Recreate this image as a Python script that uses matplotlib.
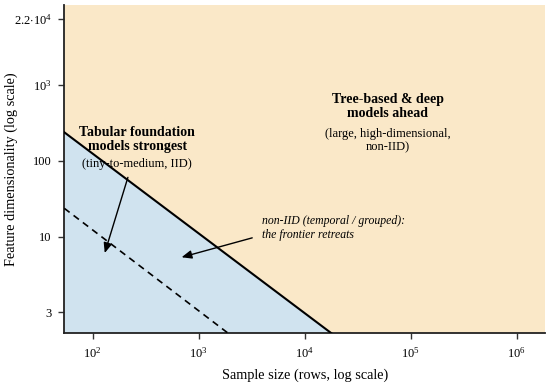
import numpy as np
import matplotlib
matplotlib.use("Agg")
import matplotlib.pyplot as plt

plt.rcParams['font.family'] = ['Liberation Serif', 'DejaVu Serif']
plt.rcParams['mathtext.fontset'] = 'custom'
plt.rcParams['mathtext.rm'] = 'Liberation Serif'
plt.rcParams['mathtext.it'] = 'Liberation Serif:italic'

# ---- data ----
y_tick_values = [3, 10, 100, 1000, 22000]
y_tick_labels = ['3', '10', '100', r'$10^{3}$', r'$2.2{\cdot}10^{4}$']
y_tick_positions = [0.0, 1.0, 2.0, 3.0, 3.872]   # evenly spaced axis positions
x_tick_values = [1e2, 1e3, 1e4, 1e5, 1e6]
x_tick_labels = [r'$10^{2}$', r'$10^{3}$', r'$10^{4}$', r'$10^{5}$', r'$10^{6}$']

frontier_n = [54, 17900]          # IID frontier (solid)
frontier_d = [238, 2.15]
noniid_n = [54, 1900]             # non-IID frontier (dashed)
noniid_d = [23.6, 2.15]

arrow1_start = (215, 60.5)
arrow1_end = (130, 7.7)
arrow2_start = (3200, 9.8)
arrow2_end = (690, 7.2)

xlim = (54, 1.85e6)
ylim = (2.15, 42400)

# ---- custom y scale (piecewise-log) ----
kl = np.log10(np.array(y_tick_values, dtype=float))
kp = np.array(y_tick_positions)
s_lo = (kp[1] - kp[0]) / (kl[1] - kl[0])
s_hi = (kp[-1] - kp[-2]) / (kl[-1] - kl[-2])
KL = np.concatenate([[kl[0] - 10], kl, [kl[-1] + 10]])
KP = np.concatenate([[kp[0] - 10 * s_lo], kp, [kp[-1] + 10 * s_hi]])

def fwd(d):
    d = np.asarray(d, dtype=float)
    with np.errstate(divide='ignore', invalid='ignore'):
        ld = np.log10(np.where(d > 0, d, 1e-10))
    return np.interp(ld, KL, KP)

def inv(p):
    p = np.asarray(p, dtype=float)
    return 10 ** np.interp(p, KP, KL)

BEIGE = '#fae8c8'
BLUE = '#d0e3ef'

fig = plt.figure(figsize=(5.5, 3.87), dpi=100)
ax = fig.add_axes([64.3 / 550, (387 - 333.3) / 387, (545 - 64.3) / 550, (333.3 - 5) / 387])
ax.set_xscale('log')
ax.set_yscale('function', functions=(fwd, inv))
ax.set_xlim(*xlim)
ax.set_ylim(*ylim)
ax.set_facecolor(BEIGE)

ax.fill([frontier_n[0], frontier_n[1], frontier_n[0]],
        [frontier_d[0], frontier_d[1], frontier_d[1]],
        color=BLUE, lw=0, zorder=1)
ax.plot(frontier_n, frontier_d, color='black', lw=1.5, zorder=3)
ax.plot(noniid_n, noniid_d, color='black', lw=1.2, ls=(0, (4, 3)), zorder=3)

ax.annotate('', xy=arrow1_end, xytext=arrow1_start,
            arrowprops=dict(arrowstyle='-|>,head_length=0.6,head_width=0.25', color='black', lw=1.0,
                            mutation_scale=10, shrinkA=0, shrinkB=0), zorder=4)
ax.annotate('', xy=arrow2_end, xytext=arrow2_start,
            arrowprops=dict(arrowstyle='-|>,head_length=0.6,head_width=0.25', color='black', lw=1.0,
                            mutation_scale=10, shrinkA=0, shrinkB=0), zorder=4)

ax.set_xticks(x_tick_values)
ax.set_xticklabels(x_tick_labels)
ax.xaxis.set_minor_locator(matplotlib.ticker.NullLocator())
ax.set_yticks(y_tick_values)
ax.set_yticklabels(y_tick_labels)
ax.yaxis.set_minor_locator(matplotlib.ticker.NullLocator())
ax.tick_params(axis='both', direction='out', length=4, width=1, labelsize=9, color='#333333')
ax.tick_params(axis='x', pad=5)
ax.tick_params(axis='y', pad=5)

for s in ['top', 'right']:
    ax.spines[s].set_visible(False)
for s in ['left', 'bottom']:
    ax.spines[s].set_linewidth(1.3)
    ax.spines[s].set_color('#222222')

ax.set_xlabel('Sample size (rows, log scale)', fontsize=10.3)
ax.xaxis.set_label_coords(0.5, -0.106)
ax.set_ylabel('Feature dimensionality (log scale)', fontsize=10.3)
ax.yaxis.set_label_coords(-0.097, 0.5)

ax.text(0.152, 0.590, 'Tabular foundation\nmodels strongest', transform=ax.transAxes,
        ha='center', va='center', fontsize=10, fontweight='bold', linespacing=1.15, zorder=5)
ax.text(0.152, 0.516, '(tiny-to-medium, IID)', transform=ax.transAxes,
        ha='center', va='center', fontsize=9, zorder=5)
ax.text(0.673, 0.691, 'Tree-based & deep\nmodels ahead', transform=ax.transAxes,
        ha='center', va='center', fontsize=10, fontweight='bold', linespacing=1.15, zorder=5)
ax.text(0.673, 0.586, '(large, high-dimensional,\nnon-IID)', transform=ax.transAxes,
        ha='center', va='center', fontsize=9, linespacing=1.15, zorder=5)
ax.text(0.411, 0.321, 'non-IID (temporal / grouped):\nthe frontier retreats', transform=ax.transAxes,
        ha='left', va='center', fontsize=8.5, style='italic', linespacing=1.15, zorder=5)

fig.savefig('out.png', dpi=100)
